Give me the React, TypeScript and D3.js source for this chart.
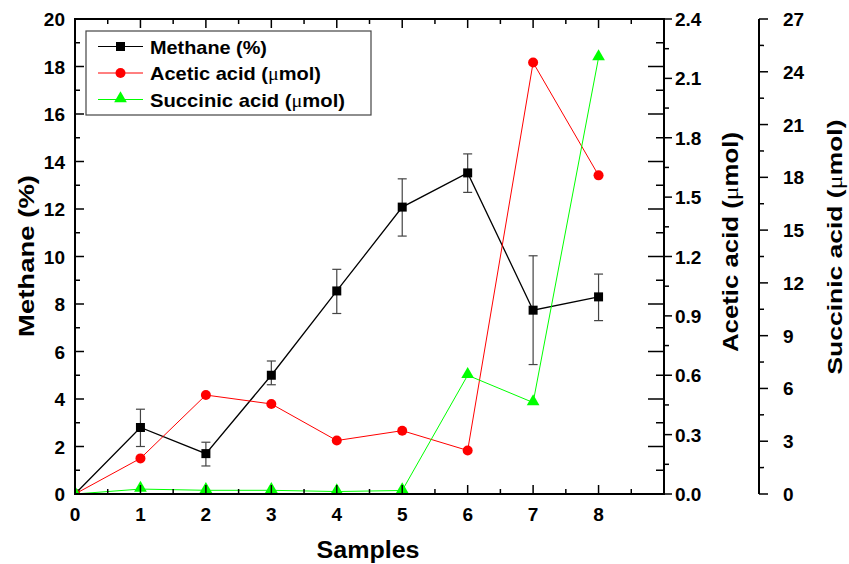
import * as d3 from "d3";

// samples on x axis
const samples = [0, 1, 2, 3, 4, 5, 6, 7, 8];
// Methane (%) with error bars
const methane = [0, 2.8, 1.7, 5.0, 8.55, 12.08, 13.52, 7.74, 8.3];
const methaneErrLow = [0, 2.0, 1.18, 4.6, 7.6, 10.86, 12.7, 5.45, 7.3];
const methaneErrHigh = [0, 3.57, 2.18, 5.6, 9.46, 13.27, 14.32, 10.03, 9.26];
// Acetic acid (umol)
const acetic = [0, 0.18, 0.5, 0.455, 0.27, 0.32, 0.22, 2.18, 1.61];
// Succinic acid (umol)
const succinic = [0, 0.28, 0.21, 0.21, 0.14, 0.2, 6.75, 5.2, 24.8];

const xTicks = [0, 1, 2, 3, 4, 5, 6, 7, 8];
const methaneTicks = [0, 2, 4, 6, 8, 10, 12, 14, 16, 18, 20];
const aceticTicks = [0, 0.3, 0.6, 0.9, 1.2, 1.5, 1.8, 2.1, 2.4];
const succinicTicks = [0, 3, 6, 9, 12, 15, 18, 21, 24, 27];

const W = 849;
const H = 564;
const left = 75;
const right = 664;
const top = 19;
const bottom = 494;
const axis3 = 759;

const FONT = "'Liberation Sans', Arial, sans-serif";
const MU = "'Liberation Serif', 'DejaVu Serif', serif";

const App = () => {
  const x = d3.scaleLinear().domain([0, 9]).range([left, right]);
  const yM = d3.scaleLinear().domain([0, 20]).range([bottom, top]);
  const yA = d3.scaleLinear().domain([0, 2.4]).range([bottom, top]);
  const yS = d3.scaleLinear().domain([0, 27]).range([bottom, top]);

  const lineM = d3.line<number>().x((_, i) => x(samples[i])).y(d => yM(d));
  const lineA = d3.line<number>().x((_, i) => x(samples[i])).y(d => yA(d));
  const lineS = d3.line<number>().x((_, i) => x(samples[i])).y(d => yS(d));

  const tri = d3.symbol().type(d3.symbolTriangle).size(70)() as string;

  const xMinor = d3.range(0, 9.01, 0.5);
  const mMinor = d3.range(0, 20.01, 1);
  const aMinor = d3.range(0, 2.41, 0.15);
  const sMinor = d3.range(0, 27.01, 1.5);
  const isMajor = (v: number, step: number) => Math.abs(v / step - Math.round(v / step)) < 1e-6;

  const fmt1 = d3.format(".1f");

  return (
    <svg width={W} height={H} style={{ position: "absolute", left: 0, top: 0, background: "#fff" }}
      fontFamily={FONT} fontWeight="bold">
      <defs>
        <clipPath id="plot">
          <rect x={left} y={top} width={right - left} height={bottom - top} />
        </clipPath>
      </defs>

      <g clipPath="url(#plot)">
        {/* methane error bars */}
        {samples.map((s, i) => i === 0 ? null : (
          <g key={"e" + i} stroke="#444" strokeWidth={1.2}>
            <line x1={x(s)} x2={x(s)} y1={yM(methaneErrLow[i])} y2={yM(methaneErrHigh[i])} />
            <line x1={x(s) - 4.5} x2={x(s) + 4.5} y1={yM(methaneErrLow[i])} y2={yM(methaneErrLow[i])} />
            <line x1={x(s) - 4.5} x2={x(s) + 4.5} y1={yM(methaneErrHigh[i])} y2={yM(methaneErrHigh[i])} />
          </g>
        ))}
        <path d={lineM(methane) as string} fill="none" stroke="#000" strokeWidth={1.3} />
        {methane.map((v, i) => (
          <rect key={"m" + i} x={x(samples[i]) - 4.5} y={yM(v) - 4.5} width={9} height={9} fill="#000" />
        ))}
        <path d={lineA(acetic) as string} fill="none" stroke="#ff0000" strokeWidth={1} />
        {acetic.map((v, i) => (
          <circle key={"a" + i} cx={x(samples[i])} cy={yA(v)} r={5} fill="#ff0000" />
        ))}
        <path d={lineS(succinic) as string} fill="none" stroke="#00ff00" strokeWidth={1} />
        {succinic.map((v, i) => (
          <path key={"s" + i} d={tri} transform={`translate(${x(samples[i])},${yS(v) - 1})`} fill="#00ff00" />
        ))}
      </g>

      {/* frame */}
      <rect x={left} y={top} width={right - left} height={bottom - top} fill="none" stroke="#000" strokeWidth={2} />

      {/* x ticks, bottom and top (inward) */}
      {xMinor.map(v => {
        const len = isMajor(v, 1) ? 9 : 5;
        return (
          <g key={"xt" + v} stroke="#000" strokeWidth={1.5}>
            <line x1={x(v)} x2={x(v)} y1={bottom} y2={bottom - len} />
            <line x1={x(v)} x2={x(v)} y1={top} y2={top + len} />
          </g>
        );
      })}
      {xTicks.map(v => (
        <text key={"xl" + v} x={x(v)} y={bottom + 27} textAnchor="middle" fontSize={19}>{v}</text>
      ))}

      {/* methane ticks left (inward) and mirrored on the right */}
      {mMinor.map(v => {
        const major = isMajor(v, 2);
        return (
          <g key={"mt" + v} stroke="#000" strokeWidth={1.5}>
            <line x1={left} x2={left + (major ? 9 : 5)} y1={yM(v)} y2={yM(v)} />
            <line x1={right} x2={right - (major ? 16 : 8)} y1={yM(v)} y2={yM(v)} />
          </g>
        );
      })}
      {methaneTicks.map(v => (
        <text key={"ml" + v} x={left - 10} y={yM(v) + 7} textAnchor="end" fontSize={19}>{v}</text>
      ))}

      {/* acetic axis (right side, outward) */}
      {aMinor.map(v => (
        <line key={"at" + v} x1={right} x2={right + (isMajor(v, 0.3) ? 8 : 5)} y1={yA(v)} y2={yA(v)}
          stroke="#000" strokeWidth={1.5} />
      ))}
      {aceticTicks.map(v => (
        <text key={"al" + v} x={right + 11} y={yA(v) + 7} fontSize={19}>{fmt1(v)}</text>
      ))}

      {/* succinic axis */}
      <line x1={axis3} x2={axis3} y1={top} y2={bottom} stroke="#000" strokeWidth={2} />
      {sMinor.map(v => (
        <line key={"st" + v} x1={axis3} x2={axis3 + (isMajor(v, 3) ? 9 : 5)} y1={yS(v)} y2={yS(v)}
          stroke="#000" strokeWidth={1.5} />
      ))}
      {succinicTicks.map(v => (
        <text key={"sl" + v} x={axis3 + 24} y={yS(v) + 7} fontSize={19}>{v}</text>
      ))}

      {/* axis titles */}
      <text x={368} y={558} textAnchor="middle" fontSize={23} textLength={103} lengthAdjust="spacingAndGlyphs">Samples</text>
      <text transform="translate(34,256) rotate(-90)" textAnchor="middle" fontSize={22}
        textLength={162} lengthAdjust="spacingAndGlyphs">Methane (%)</text>
      <text transform="translate(738,242) rotate(-90)" textAnchor="middle" fontSize={22}
        textLength={220} lengthAdjust="spacingAndGlyphs">
        Acetic acid (<tspan fontFamily={MU} fontWeight="normal">μ</tspan>mol)
      </text>
      <text transform="translate(842,247) rotate(-90)" textAnchor="middle" fontSize={21}
        textLength={255} lengthAdjust="spacingAndGlyphs">
        Succinic acid (<tspan fontFamily={MU} fontWeight="normal">μ</tspan>mol)
      </text>

      {/* legend */}
      <g>
        <rect x={86} y={31} width={285} height={84} fill="#fff" stroke="#444" strokeWidth={1.2} />
        <g transform="translate(0,46.5)">
          <line x1={98} x2={143} y1={0} y2={0} stroke="#000" strokeWidth={1} />
          <rect x={116} y={-4.5} width={9} height={9} fill="#000" />
          <text x={150} y={7} fontSize={19} textLength={117} lengthAdjust="spacingAndGlyphs">Methane (%)</text>
        </g>
        <g transform="translate(0,73)">
          <line x1={98} x2={143} y1={0} y2={0} stroke="#ff0000" strokeWidth={1} />
          <circle cx={120.5} cy={0} r={5} fill="#ff0000" />
          <text x={150} y={7} fontSize={19} textLength={171} lengthAdjust="spacingAndGlyphs">
            Acetic acid (<tspan fontFamily={MU} fontWeight="normal">μ</tspan>mol)
          </text>
        </g>
        <g transform="translate(0,99.5)">
          <line x1={98} x2={143} y1={0} y2={0} stroke="#00ff00" strokeWidth={1} />
          <path d={tri} transform="translate(120.5,-1)" fill="#00ff00" />
          <text x={150} y={7} fontSize={19} textLength={195} lengthAdjust="spacingAndGlyphs">
            Succinic acid (<tspan fontFamily={MU} fontWeight="normal">μ</tspan>mol)
          </text>
        </g>
      </g>
    </svg>
  );
};

export default App;
